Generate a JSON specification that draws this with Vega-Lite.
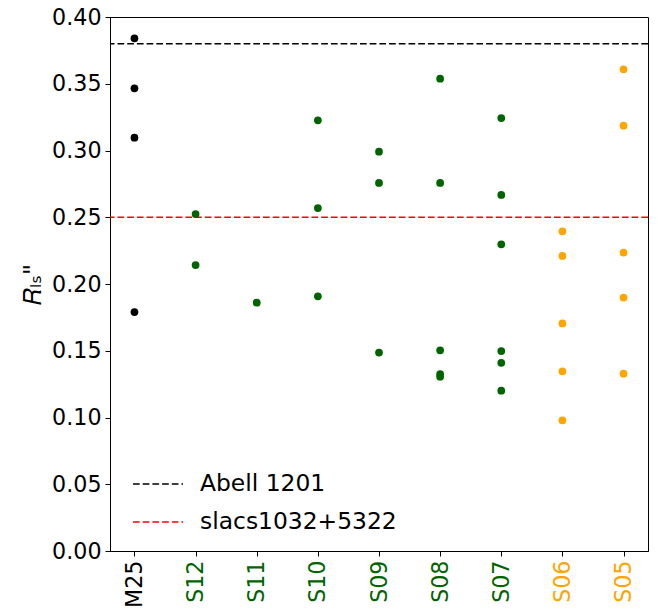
{
  "$schema": "https://vega.github.io/schema/vega-lite/v6.json",
  "autosize": "none",
  "width": 538,
  "height": 534,
  "padding": {"left": 110, "top": 17, "right": 14, "bottom": 62},
  "config": {
    "font": "DejaVu Sans",
    "view": {"stroke": "black", "strokeWidth": 1},
    "axis": {"grid": false, "domainColor": "black", "tickColor": "black", "labelColor": "black", "labelFont": "DejaVu Sans", "labelFontSize": 22.2, "tickSize": 5, "labelPadding": 4, "titleFont": "DejaVu Sans"}
  },
  "datasets": {
    "pts": [
      {"model": "M25", "grp": "M25", "r": 0.384},
      {"model": "M25", "grp": "M25", "r": 0.3466},
      {"model": "M25", "grp": "M25", "r": 0.3096},
      {"model": "M25", "grp": "M25", "r": 0.179},
      {"model": "S12", "grp": "S-green", "r": 0.2524},
      {"model": "S12", "grp": "S-green", "r": 0.2142},
      {"model": "S11", "grp": "S-green", "r": 0.186},
      {"model": "S10", "grp": "S-green", "r": 0.3226},
      {"model": "S10", "grp": "S-green", "r": 0.2569},
      {"model": "S10", "grp": "S-green", "r": 0.1908},
      {"model": "S09", "grp": "S-green", "r": 0.2991},
      {"model": "S09", "grp": "S-green", "r": 0.2757},
      {"model": "S09", "grp": "S-green", "r": 0.1486},
      {"model": "S08", "grp": "S-green", "r": 0.3538},
      {"model": "S08", "grp": "S-green", "r": 0.2757},
      {"model": "S08", "grp": "S-green", "r": 0.1503},
      {"model": "S08", "grp": "S-green", "r": 0.1325},
      {"model": "S08", "grp": "S-green", "r": 0.1306},
      {"model": "S07", "grp": "S-green", "r": 0.3243},
      {"model": "S07", "grp": "S-green", "r": 0.2667},
      {"model": "S07", "grp": "S-green", "r": 0.2297},
      {"model": "S07", "grp": "S-green", "r": 0.1498},
      {"model": "S07", "grp": "S-green", "r": 0.141},
      {"model": "S07", "grp": "S-green", "r": 0.1201},
      {"model": "S06", "grp": "S-orange", "r": 0.2395},
      {"model": "S06", "grp": "S-orange", "r": 0.221},
      {"model": "S06", "grp": "S-orange", "r": 0.1705},
      {"model": "S06", "grp": "S-orange", "r": 0.1346},
      {"model": "S06", "grp": "S-orange", "r": 0.0979},
      {"model": "S05", "grp": "S-orange", "r": 0.3608},
      {"model": "S05", "grp": "S-orange", "r": 0.3186},
      {"model": "S05", "grp": "S-orange", "r": 0.2235},
      {"model": "S05", "grp": "S-orange", "r": 0.1898},
      {"model": "S05", "grp": "S-orange", "r": 0.1328}
    ],
    "lines": [
      {"label": "Abell 1201", "r": 0.38},
      {"label": "slacs1032+5322", "r": 0.25}
    ]
  },
  "layer": [
    {
      "data": {"name": "lines"},
      "mark": {"type": "rule", "strokeWidth": 1.5, "strokeDash": [6.7, 3]},
      "encoding": {
        "y": {"field": "r", "type": "quantitative", "scale": {"domain": [0, 0.4], "nice": false, "zero": true}},
        "color": {
          "field": "label", "type": "nominal",
          "scale": {"domain": ["Abell 1201", "slacs1032+5322"], "range": ["black", "red"]},
          "legend": {
            "title": null, "orient": "none", "legendX": 22, "legendY": 441,
            "symbolType": "stroke", "symbolDash": [6.7, 3], "symbolStrokeWidth": 1.5,
            "symbolSize": 2500, "labelFontSize": 23.4, "labelFont": "DejaVu Sans",
            "labelColor": "black", "rowPadding": -18, "labelOffset": 16, "padding": 0, "labelLimit": 400
          }
        }
      }
    },
    {
      "data": {"name": "pts"},
      "mark": {"type": "circle", "size": 60, "opacity": 1},
      "encoding": {
        "x": {
          "field": "model", "type": "nominal",
          "sort": ["M25", "S12", "S11", "S10", "S09", "S08", "S07", "S06", "S05"],
          "scale": {"type": "point", "padding": 0.4},
          "axis": {
            "title": null, "labelAngle": -90, "labelAlign": "right", "labelBaseline": "middle",
            "labelColor": {
              "condition": [
                {"test": "datum.value == 'M25'", "value": "black"},
                {"test": "datum.value == 'S06' || datum.value == 'S05'", "value": "orange"}
              ],
              "value": "darkgreen"
            }
          }
        },
        "y": {
          "field": "r", "type": "quantitative",
          "scale": {"domain": [0, 0.4], "nice": false},
          "axis": {"title": "𝑅ₗₛ\"", "titleFontSize": 24, "titleFontWeight": "normal", "titlePadding": 6, "format": ".2f", "values": [0, 0.05, 0.1, 0.15, 0.2, 0.25, 0.3, 0.35, 0.4]}
        },
        "color": {
          "field": "grp", "type": "nominal",
          "scale": {"domain": ["M25", "S-green", "S-orange"], "range": ["black", "darkgreen", "orange"]},
          "legend": null
        }
      }
    }
  ],
  "resolve": {"scale": {"color": "independent"}}
}
